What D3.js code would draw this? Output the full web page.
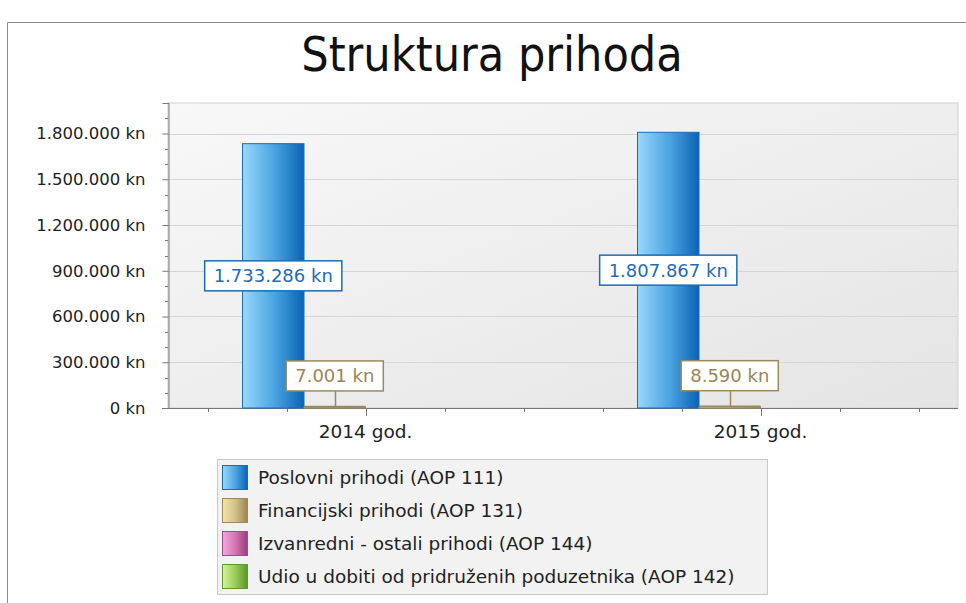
<!DOCTYPE html>
<html>
<head>
<meta charset="utf-8">
<script src="https://cdn.jsdelivr.net/npm/d3@7"></script>
<style>
  body { margin: 0; background: #fff; }
  text { font-family: "DejaVu Sans", sans-serif; }
</style>
</head>
<body>
<svg id="canvas" width="966" height="603"></svg>
<script>
let categories = ['2014 god.', '2015 god.']
let seriesNames = [
    'Poslovni prihodi (AOP 111)',
    'Financijski prihodi (AOP 131)',
    'Izvanredni - ostali prihodi (AOP 144)',
    'Udio u dobiti od pridruženih poduzetnika (AOP 142)'
]
let poslovni = [1733286, 1807867]
let financijski = [7001, 8590]
let izvanredni = [0, 0]
let udio = [0, 0]
let yTicks = [0, 300000, 600000, 900000, 1200000, 1500000, 1800000]

let seriesValues = [poslovni, financijski, izvanredni, udio]
let seriesColors = [
    { light: '#9ad8fb', mid: '#4ea6e2', dark: '#0a62b6', stroke: '#1a6cb8', text: '#1f6cb3' },
    { light: '#f4e4a8', mid: '#d6c188', dark: '#9a8552', stroke: '#9c8a5a', text: '#9a8654' },
    { light: '#f6a8de', mid: '#d576b6', dark: '#9a3a7c', stroke: '#a04a86', text: '#a04a86' },
    { light: '#d6f29a', mid: '#9ccc5a', dark: '#5a962a', stroke: '#5f9a30', text: '#5f9a30' }
]

let locale = d3.formatLocale({ decimal: ',', thousands: '.', grouping: [3], currency: ['', ' kn'] })
let fmt = (v) => locale.format(',d')(v) + ' kn'

let canvas = d3.select('#canvas')
let defs = canvas.append('defs')

// outer frame
canvas.append('path')
      .attr('d', 'M7.5,603 V22.5 H966')
      .attr('fill', 'none')
      .attr('stroke', '#8a8a8a')

canvas.append('text')
      .attr('x', 492)
      .attr('y', 71)
      .attr('text-anchor', 'middle')
      .attr('font-size', 48)
      .style('font-family', '"DejaVu Sans Condensed", sans-serif')
      .attr('fill', '#111')
      .text('Struktura prihoda')

let plot = { left: 168, right: 958, top: 103, bottom: 408 }

let bgGrad = defs.append('linearGradient').attr('id', 'bg')
                 .attr('x1', 0).attr('y1', 0).attr('x2', 1).attr('y2', 1)
bgGrad.append('stop').attr('offset', 0).attr('stop-color', '#f8f8f8')
bgGrad.append('stop').attr('offset', 1).attr('stop-color', '#e4e4e4')

seriesColors.forEach((c, i) => {
    let g = defs.append('linearGradient').attr('id', 'bar' + i)
                .attr('x1', 0).attr('y1', 0).attr('x2', 1).attr('y2', 0)
    g.append('stop').attr('offset', 0).attr('stop-color', c.light)
    g.append('stop').attr('offset', 0.5).attr('stop-color', c.mid)
    g.append('stop').attr('offset', 1).attr('stop-color', c.dark)
})

canvas.append('rect')
      .attr('x', plot.left)
      .attr('y', plot.top)
      .attr('width', plot.right - plot.left)
      .attr('height', plot.bottom - plot.top)
      .attr('fill', 'url(#bg)')
      .attr('stroke', '#d0d0d0')

let yScale = d3.scaleLinear().domain([0, 2000000]).range([plot.bottom, plot.top])
let xScale = d3.scaleBand().domain(categories).range([plot.left, plot.right])
let inner = d3.scaleBand().domain(d3.range(seriesNames.length)).range([-123, 123])

// gridlines
canvas.selectAll('.grid')
      .data(yTicks.slice(1))
      .enter()
      .append('line')
      .attr('x1', plot.left)
      .attr('x2', plot.right)
      .attr('y1', (d) => Math.round(yScale(d)) + 0.5)
      .attr('y2', (d) => Math.round(yScale(d)) + 0.5)
      .attr('stroke', '#d6d6d6')

// y axis
let yAxis = d3.axisLeft(yScale)
              .tickValues(yTicks)
              .tickFormat(fmt)
              .tickSize(6)
              .tickPadding(17)
let yG = canvas.append('g')
               .attr('transform', `translate(${plot.left + 0.5},0)`)
               .call(yAxis)
yG.select('.domain').attr('stroke', '#777')
yG.selectAll('.tick line').attr('stroke', '#777')
yG.selectAll('.tick text').attr('font-size', 16.5).attr('fill', '#222')
  .style('font-family', '"DejaVu Sans", sans-serif')

let yMinor = d3.range(100000, 2000000, 100000).filter((v) => v % 300000 !== 0)
canvas.selectAll('.yminor')
      .data(yMinor)
      .enter()
      .append('line')
      .attr('x1', plot.left - 3)
      .attr('x2', plot.left)
      .attr('y1', (d) => Math.round(yScale(d)) + 0.5)
      .attr('y2', (d) => Math.round(yScale(d)) + 0.5)
      .attr('stroke', '#777')

// x axis
let xAxis = d3.axisBottom(xScale).tickSize(0).tickPadding(16)
let xG = canvas.append('g')
               .attr('transform', `translate(0,${plot.bottom + 0.5})`)
               .call(xAxis)
xG.select('.domain').attr('stroke', '#777').attr('d', `M${plot.left - 6},0H${plot.right}`)
xG.selectAll('.tick text').attr('font-size', 18.5).attr('fill', '#222')
  .style('font-family', '"DejaVu Sans", sans-serif')

let xTicks = []
categories.forEach((c) => {
    let center = xScale(c) + xScale.bandwidth() / 2
    d3.range(-2, 3).forEach((k) => {
        xTicks.push({ x: center + k * xScale.bandwidth() / 5, major: k === 0 })
    })
})
canvas.selectAll('.xtick')
      .data(xTicks)
      .enter()
      .append('line')
      .attr('x1', (d) => Math.round(d.x) + 0.5)
      .attr('x2', (d) => Math.round(d.x) + 0.5)
      .attr('y1', plot.bottom)
      .attr('y2', (d) => plot.bottom + (d.major ? 8 : 4))
      .attr('stroke', '#777')

// bars
let barData = []
seriesValues.forEach((vals, s) => {
    vals.forEach((v, c) => {
        barData.push({ s: s, cat: categories[c], value: v })
    })
})

canvas.selectAll('.bar')
      .data(barData.filter((d) => d.value > 0))
      .enter()
      .append('rect')
      .attr('class', 'bar')
      .attr('x', (d) => xScale(d.cat) + xScale.bandwidth() / 2 + inner(d.s))
      .attr('y', (d) => yScale(d.value))
      .attr('width', inner.bandwidth())
      .attr('height', (d) => Math.max(1, yScale(0) - yScale(d.value)))
      .attr('fill', (d) => 'url(#bar' + d.s + ')')
      .attr('stroke', (d) => seriesColors[d.s].stroke)
      .attr('stroke-width', 1)

// labels
barData.filter((d) => d.value > 0).forEach((d) => {
    let c = seriesColors[d.s]
    let cx = xScale(d.cat) + xScale.bandwidth() / 2 + inner(d.s) + inner.bandwidth() / 2
    let top = yScale(d.value)
    let h = yScale(0) - top
    let cy
    let g = canvas.append('g')
    if (h > 40) {
        cy = top + h / 2
    } else {
        cy = top - 16 - 15
        g.append('line')
         .attr('x1', Math.round(cx) + 0.5).attr('x2', Math.round(cx) + 0.5)
         .attr('y1', cy + 15).attr('y2', top)
         .attr('stroke', c.stroke).attr('stroke-width', 1.5)
        g.append('line')
         .attr('x1', cx - inner.bandwidth() / 2).attr('x2', cx + inner.bandwidth() / 2)
         .attr('y1', top - 0.5).attr('y2', top - 0.5)
         .attr('stroke', c.stroke).attr('stroke-width', 1.5)
    }
    let t = g.append('text')
             .attr('x', cx)
             .attr('y', cy + 6.5)
             .attr('text-anchor', 'middle')
             .attr('font-size', 18)
             .attr('fill', c.text)
             .text(fmt(d.value))
    let w = t.node().getComputedTextLength() + 18
    g.insert('rect', 'text')
     .attr('x', cx - w / 2)
     .attr('y', cy - 15)
     .attr('width', w)
     .attr('height', 30)
     .attr('fill', '#fff')
     .attr('stroke', c.stroke)
     .attr('stroke-width', 1.5)
})

// legend
let legend = canvas.append('g')
legend.append('rect')
      .attr('x', 217.5).attr('y', 459.5)
      .attr('width', 550).attr('height', 135)
      .attr('fill', '#f2f2f2')
      .attr('stroke', '#c8c8c8')

let items = legend.selectAll('.item')
                  .data(seriesNames)
                  .enter()
                  .append('g')
                  .attr('transform', (d, i) => `translate(222,${465 + i * 33})`)
items.append('rect')
     .attr('x', 0.5).attr('y', 0.5)
     .attr('width', 25).attr('height', 24)
     .attr('fill', (d, i) => 'url(#bar' + i + ')')
     .attr('stroke', (d, i) => seriesColors[i].stroke)
items.append('text')
     .attr('x', 36)
     .attr('y', 19)
     .attr('font-size', 18.5)
     .attr('fill', '#222')
     .text((d) => d)
</script>
</body>
</html>
